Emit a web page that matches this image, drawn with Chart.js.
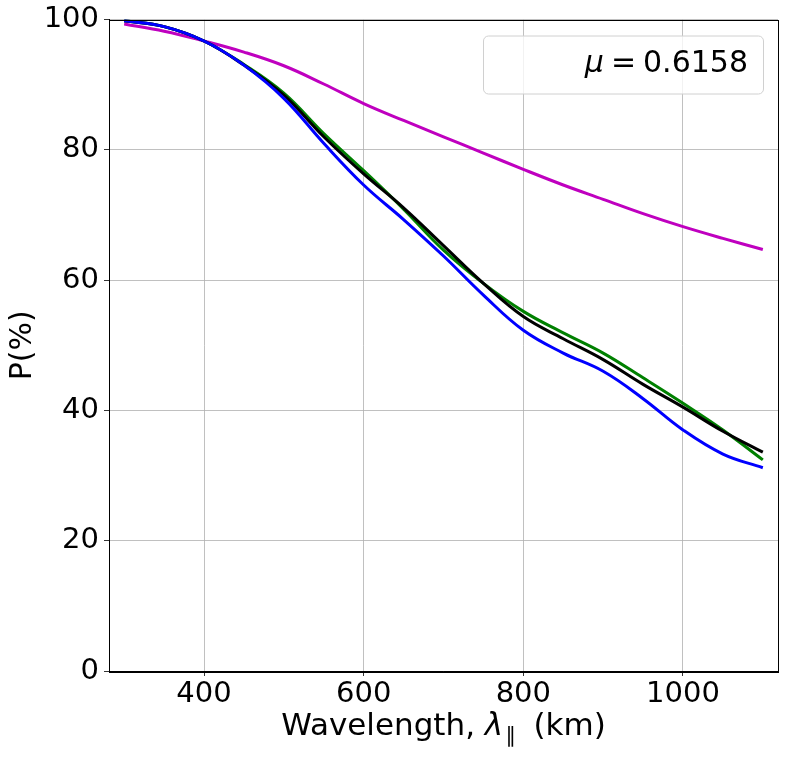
<!DOCTYPE html>
<html>
<head>
<meta charset="utf-8">
<script src="https://cdn.jsdelivr.net/npm/chart.js@4.4.1/dist/chart.umd.min.js"></script>
<style>
  html, body { margin: 0; padding: 0; background: #fff; }
  canvas { display: block; }
</style>
</head>
<body>
<canvas id="chart" width="785" height="758"></canvas>
<script>
// data
const wavelength = [300, 350, 400, 450, 500, 550, 600, 650, 700, 750, 800, 850, 900, 950, 1000, 1050, 1100];
const blackP   = [99.8, 98.9, 96.7, 93.0, 88.4, 82.0, 76.3, 71.1, 65.3, 59.5, 54.4, 51.0, 47.8, 44.0, 40.5, 36.8, 33.6];
const greenP   = [99.8, 98.9, 96.7, 93.1, 88.7, 82.5, 76.8, 70.9, 64.6, 59.5, 55.2, 51.9, 48.8, 45.0, 41.1, 37.0, 32.4];
const blueP    = [99.8, 98.9, 96.7, 93.0, 87.9, 81.0, 74.6, 69.3, 63.7, 57.7, 52.3, 48.8, 46.0, 41.8, 37.0, 33.3, 31.2];
const magentaP = [99.3, 98.2, 96.7, 95.0, 92.9, 90.1, 87.1, 84.5, 82.0, 79.5, 77.0, 74.6, 72.4, 70.2, 68.2, 66.4, 64.7];
const xTicks = [400, 600, 800, 1000];
const yTicks = [0, 20, 40, 60, 80, 100];
const legendLabel = '0.6158';

const FONT = "'DejaVu Sans', sans-serif";
Chart.defaults.font.family = FONT;
Chart.defaults.color = '#000';

function series(values, color) {
  return {
    data: wavelength.map((x, i) => ({ x: x, y: values[i] })),
    borderColor: color,
    borderWidth: 3,
    pointRadius: 0,
    fill: false,
    tension: 0.4
  };
}

// frame, legend box and x title with subscript
const extras = {
  id: 'extras',
  afterDatasetsDraw(chart) {
    const ctx = chart.ctx;
    const a = chart.chartArea;
    ctx.save();
    ctx.strokeStyle = '#000';
    ctx.lineWidth = 1;
    ctx.strokeRect(Math.round(a.left) + 0.5, Math.round(a.top) + 0.5,
                   Math.round(a.right - a.left), Math.round(a.bottom - a.top));

    // legend
    const bx = a.right - 295, by = a.top + 16, bw = 280, bh = 58;
    ctx.beginPath();
    ctx.roundRect(bx + 0.5, by + 0.5, bw, bh, 5);
    ctx.fillStyle = 'rgba(255,255,255,0.8)';
    ctx.fill();
    ctx.strokeStyle = '#d0d0d0';
    ctx.stroke();

    ctx.fillStyle = '#000';
    ctx.textBaseline = 'alphabetic';
    ctx.font = '30px ' + FONT;
    const tx = bx + bw - 15, ty = by + 36;
    const numW = ctx.measureText(legendLabel).width;
    ctx.textAlign = 'right';
    ctx.fillText(legendLabel, tx, ty);
    const eqW = ctx.measureText('=').width;
    ctx.fillText('=', tx - numW - 7, ty);
    ctx.font = 'italic 30px ' + FONT;
    ctx.fillText('μ', tx - numW - 7 - eqW - 7, ty);

    // x axis title: Wavelength, λ∥ (km)
    const base = 735;
    ctx.textAlign = 'left';
    const big = '31px ' + FONT, ital = 'italic 31px ' + FONT, small = '21px ' + FONT;
    ctx.font = big;
    const w1 = ctx.measureText('Wavelength, ').width;
    const w3 = ctx.measureText('  (km)').width;
    ctx.font = ital;
    const w2 = ctx.measureText('λ').width;
    ctx.font = small;
    const ws = ctx.measureText('∥').width;
    const total = w1 + w2 + ws + w3;
    let x = (a.left + a.right) / 2 - total / 2;
    ctx.font = big;  ctx.fillText('Wavelength, ', x, base); x += w1;
    ctx.font = ital; ctx.fillText('λ', x, base); x += w2;
    ctx.font = small; ctx.fillText('∥', x + 2, base + 7); x += ws;
    ctx.font = big;  ctx.fillText('  (km)', x, base);
    ctx.restore();
  }
};

new Chart(document.getElementById('chart'), {
  type: 'line',
  data: {
    datasets: [
      series(blueP, '#0000ff'),
      series(blackP, '#000000'),
      series(greenP, '#008000'),
      series(magentaP, '#bf00bf')
    ]
  },
  options: {
    responsive: false,
    animation: false,
    layout: { padding: { top: 19, right: 7, left: 0, bottom: 0 } },
    plugins: { legend: { display: false }, tooltip: { enabled: false } },
    scales: {
      x: {
        type: 'linear',
        min: 281,
        max: 1119,
        afterBuildTicks: s => { s.ticks = xTicks.map(v => ({ value: v })); },
        afterFit: s => { s.height = 87; },
        grid: { color: '#b0b0b0', lineWidth: 0.8, tickColor: '#000', tickLength: 5 },
        border: { color: '#000', width: 1 },
        ticks: { font: { size: 29 }, padding: 1, maxRotation: 0, callback: v => String(v) }
      },
      y: {
        min: 0,
        max: 100,
        afterBuildTicks: s => { s.ticks = yTicks.map(v => ({ value: v })); },
        afterFit: s => { s.width = 109; },
        grid: { color: '#b0b0b0', lineWidth: 0.8, tickColor: '#000', tickLength: 5 },
        border: { color: '#000', width: 1 },
        ticks: { font: { size: 29, lineHeight: 1 }, padding: 5, callback: v => String(v) },
        title: { display: true, text: 'P(%)', font: { size: 30 }, padding: { top: 5, bottom: 0 } }
      }
    }
  },
  plugins: [extras]
});
</script>
</body>
</html>
